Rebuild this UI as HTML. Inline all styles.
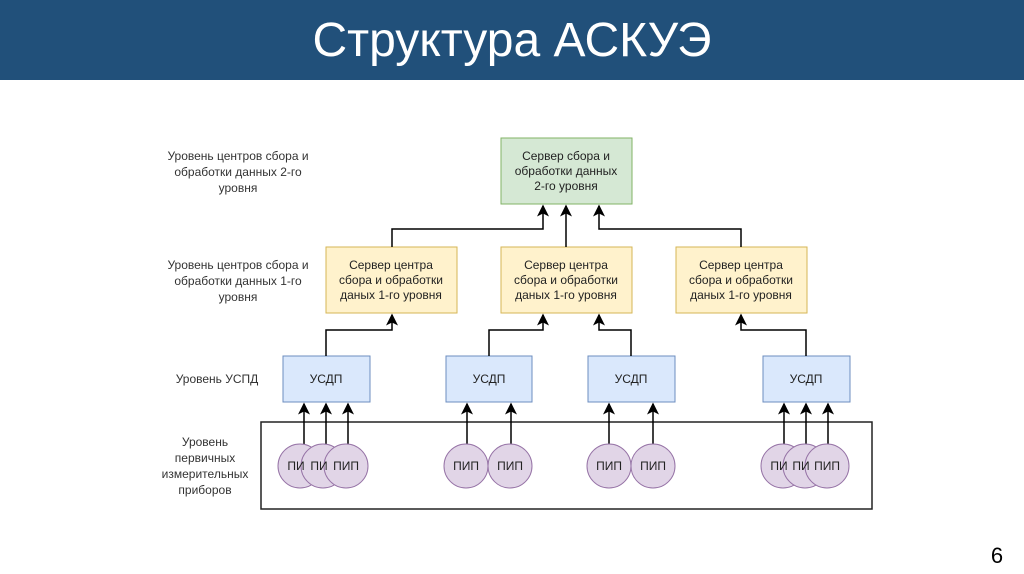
<!DOCTYPE html>
<html><head><meta charset="utf-8"><style>
body{margin:0;width:1024px;height:574px;background:#fff;overflow:hidden;font-family:"Liberation Sans",sans-serif}
.hdr{position:absolute;left:0;top:0;width:1024px;height:80px;background:#21507a;color:#fff;font-size:48px;text-align:center;line-height:82px}
</style></head><body>
<div class="hdr">Структура АСКУЭ</div>
<svg width="1024" height="574" style="position:absolute;left:0;top:0" font-family="Liberation Sans, sans-serif">
<defs><marker id="a" markerWidth="8" markerHeight="8" refX="7" refY="4" orient="auto"><path d="M0,0 L8,4 L0,8 L2,4z" fill="#000"/></marker></defs>
<g font-size="12" fill="#333" text-anchor="middle">
<text x="238" y="160">Уровень центров сбора и</text><text x="238" y="176">обработки данных 2-го</text><text x="238" y="192">уровня</text>
<text x="238" y="269">Уровень центров сбора и</text><text x="238" y="285">обработки данных 1-го</text><text x="238" y="301">уровня</text>
<text x="217" y="383">Уровень УСПД</text>
<text x="205" y="446">Уровень</text><text x="205" y="462">первичных</text><text x="205" y="478">измерительных</text><text x="205" y="494">приборов</text>
</g>
<rect x="261" y="422" width="611" height="87" fill="none" stroke="#222" stroke-width="1.5"/>
<rect x="501" y="138" width="131" height="66" fill="#d5e8d4" stroke="#82b366"/>
<g fill="#fff2cc" stroke="#d6b656"><rect x="326" y="247" width="131" height="66"/><rect x="501" y="247" width="131" height="66"/><rect x="676" y="247" width="131" height="66"/></g>
<g fill="#dae8fc" stroke="#6c8ebf"><rect x="283" y="356" width="87" height="46"/><rect x="446" y="356" width="86" height="46"/><rect x="588" y="356" width="87" height="46"/><rect x="763" y="356" width="87" height="46"/></g>
<g font-size="12" fill="#222" text-anchor="middle">
<text x="566" y="160">Сервер сбора и</text><text x="566" y="175">обработки данных</text><text x="566" y="190">2-го уровня</text>
<text x="391" y="269">Сервер центра</text><text x="391" y="284">сбора и обработки</text><text x="391" y="299">даных 1-го уровня</text>
<text x="566" y="269">Сервер центра</text><text x="566" y="284">сбора и обработки</text><text x="566" y="299">даных 1-го уровня</text>
<text x="741" y="269">Сервер центра</text><text x="741" y="284">сбора и обработки</text><text x="741" y="299">даных 1-го уровня</text>
<text x="326" y="383">УСДП</text><text x="489" y="383">УСДП</text><text x="631" y="383">УСДП</text><text x="806" y="383">УСДП</text>
</g>
<g stroke="#000" stroke-width="1.5" fill="none" marker-end="url(#a)">
<path d="M392 247V229H543V206"/><path d="M566 247V206"/><path d="M741 247V229H599V206"/>
<path d="M326 356V330H392V315"/><path d="M489 356V330H543V315"/><path d="M631 356V330H599V315"/><path d="M806 356V330H741V315"/>
<path d="M304 444V404"/><path d="M326 444V404"/><path d="M348 444V404"/>
<path d="M467 444V404"/><path d="M511 444V404"/><path d="M609 444V404"/><path d="M653 444V404"/>
<path d="M784 444V404"/><path d="M806 444V404"/><path d="M828 444V404"/>
</g>
<g fill="#e1d5e7" stroke="#9673a6" font-size="12">
<circle cx="300" cy="466" r="22"/><circle cx="323" cy="466" r="22"/><circle cx="346" cy="466" r="22"/>
<circle cx="466" cy="466" r="22"/><circle cx="510" cy="466" r="22"/><circle cx="609" cy="466" r="22"/><circle cx="653" cy="466" r="22"/>
<circle cx="783" cy="466" r="22"/><circle cx="805" cy="466" r="22"/><circle cx="827" cy="466" r="22"/>
</g>
<g font-size="12" fill="#222" text-anchor="middle">
<text x="346" y="470">ПИП</text><text x="466" y="470">ПИП</text><text x="510" y="470">ПИП</text><text x="609" y="470">ПИП</text><text x="653" y="470">ПИП</text><text x="827" y="470">ПИП</text>
<text x="296" y="470">ПИ</text><text x="319" y="470">ПИ</text><text x="779" y="470">ПИ</text><text x="801" y="470">ПИ</text>
</g>
<text x="997" y="563" font-size="22" fill="#000" text-anchor="middle">6</text>
</svg>
</body></html>
